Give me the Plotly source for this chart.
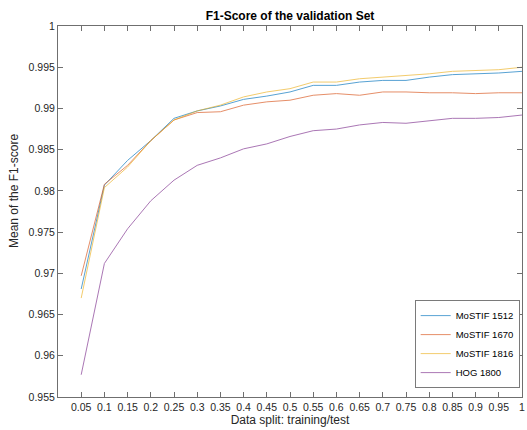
import plotly.graph_objects as go

# ---- data ----
split = [0.05, 0.10, 0.15, 0.20, 0.25, 0.30, 0.35, 0.40, 0.45, 0.50,
         0.55, 0.60, 0.65, 0.70, 0.75, 0.80, 0.85, 0.90, 0.95, 1.00]

mostif_1512 = [0.9681, 0.9807, 0.9837, 0.9861, 0.9888, 0.9897, 0.9903, 0.9911, 0.9915, 0.9920,
               0.9928, 0.9928, 0.9932, 0.9934, 0.9934, 0.9938, 0.9941, 0.9942, 0.9943, 0.9945]
mostif_1670 = [0.9697, 0.9808, 0.9831, 0.9861, 0.9886, 0.9895, 0.9896, 0.9904, 0.9908, 0.9910,
               0.9916, 0.9918, 0.9916, 0.9920, 0.9920, 0.9919, 0.9919, 0.9918, 0.9919, 0.9919]
mostif_1816 = [0.9670, 0.9804, 0.9829, 0.9861, 0.9886, 0.9897, 0.9904, 0.9914, 0.9920, 0.9924,
               0.9932, 0.9932, 0.9936, 0.9938, 0.9940, 0.9942, 0.9945, 0.9946, 0.9947, 0.9950]
hog_1800 = [0.9577, 0.9712, 0.9754, 0.9788, 0.9813, 0.9831, 0.9840, 0.9851, 0.9857, 0.9866,
            0.9873, 0.9875, 0.9880, 0.9883, 0.9882, 0.9885, 0.9888, 0.9888, 0.9889, 0.9892]

series_names = ["MoSTIF 1512", "MoSTIF 1670", "MoSTIF 1816", "HOG 1800"]
series_values = [mostif_1512, mostif_1670, mostif_1816, hog_1800]
series_colors = ["#0072BD", "#D95319", "#EDB120", "#7E2F8E"]

x_tickvals = split
x_ticktext = ["0.05", "0.1", "0.15", "0.2", "0.25", "0.3", "0.35", "0.4", "0.45", "0.5",
              "0.55", "0.6", "0.65", "0.7", "0.75", "0.8", "0.85", "0.9", "0.95", "1"]
y_tickvals = [0.955, 0.96, 0.965, 0.97, 0.975, 0.98, 0.985, 0.99, 0.995, 1.0]
y_ticktext = ["0.955", "0.96", "0.965", "0.97", "0.975", "0.98", "0.985", "0.99", "0.995", "1"]

FONT = "Liberation Sans, Arial, Helvetica, sans-serif"
AX = "#6f6f6f"
TXT = "#262626"

fig = go.Figure()
for name, vals, col in zip(series_names, series_values, series_colors):
    fig.add_trace(go.Scatter(x=split, y=vals, mode="lines", name=name,
                             line=dict(color=col, width=1), opacity=0.65))

axis_common = dict(showline=True, linecolor=AX, linewidth=1, mirror="ticks",
                   ticks="inside", ticklen=5, tickcolor=AX, tickwidth=1,
                   showgrid=False, zeroline=False, automargin=False,
                   ticklabeloverflow="allow",
                   tickfont=dict(family=FONT, size=10.5, color=TXT))

fig.update_layout(
    width=527, height=430,
    margin=dict(l=58, r=5, t=26, b=33),
    paper_bgcolor="white", plot_bgcolor="white",
    font=dict(family=FONT, color=TXT),
    title=dict(text="<b>F1-Score of the validation Set</b>", x=0.5, xref="paper",
               xanchor="center", y=1 - 16 / 430, yanchor="middle",
               font=dict(family=FONT, size=12, color="#000000")),
    xaxis=dict(range=[0, 1], tickvals=x_tickvals, ticktext=x_ticktext,
               title=dict(text="Data split: training/test", standoff=4,
                          font=dict(family=FONT, size=12, color=TXT)),
               **axis_common),
    yaxis=dict(range=[0.955, 1.0], tickvals=y_tickvals, ticktext=y_ticktext,
               **axis_common),
    legend=dict(x=0.995, xanchor="right", y=0.024, yanchor="bottom",
                bgcolor="white", bordercolor="#7a7a7a", borderwidth=1,
                font=dict(family=FONT, size=9.5, color="#000000"),
                itemwidth=30, tracegroupgap=0),
    showlegend=True,
    annotations=[dict(text="Mean of the F1-score", textangle=-90,
                      xref="paper", yref="paper", x=-44 / 464, y=(397 - 191) / 371,
                      xanchor="center", yanchor="middle", showarrow=False,
                      font=dict(family=FONT, size=12, color=TXT))],
)

fig.write_html("out.html",
               config={"displayModeBar": False},
               post_script="document.body.style.margin='0';"
                           "document.body.style.overflow='hidden';")
